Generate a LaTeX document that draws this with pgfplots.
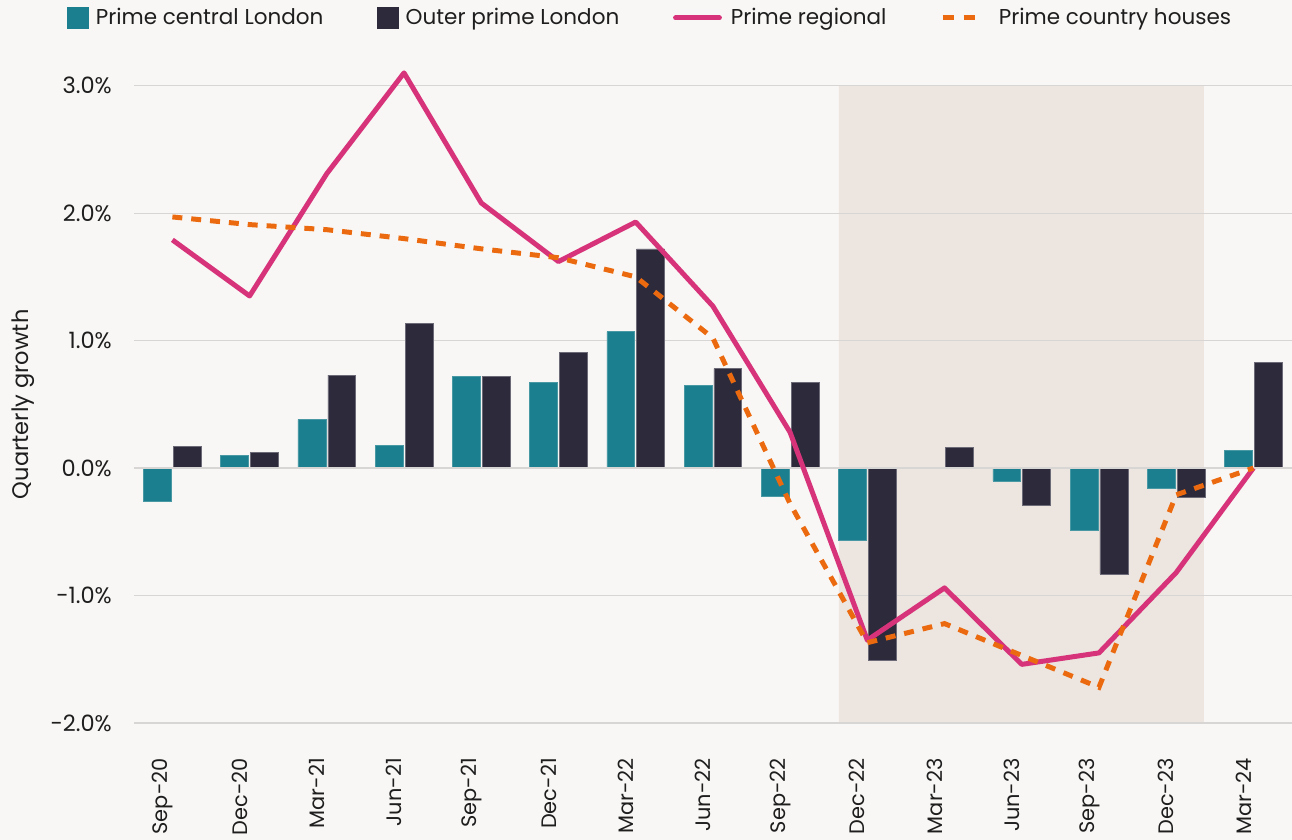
\documentclass[border=0pt]{standalone}
\usepackage{pgfplots}
\pgfplotsset{compat=1.18}
\usepackage{fontspec}
\setmainfont{Poppins}
\definecolor{bg}{HTML}{F9F7F5}
\definecolor{shade}{HTML}{EDE5DF}
\definecolor{pcl}{HTML}{1C7F8F}
\definecolor{opl}{HTML}{2D2A3B}
\definecolor{preg}{HTML}{D6337A}
\definecolor{pch}{HTML}{EC6A0F}
\definecolor{gridc}{HTML}{D8D6D4}
\definecolor{txt}{HTML}{1E1E1E}
\begin{document}
\pagecolor{bg}
\begin{tikzpicture}
\begin{axis}[
  at={(64.5pt,58.5pt)}, anchor=south west,
  scale only axis, width=581.5pt, height=320pt,
  xmin=-0.5, xmax=14.5, ymin=-2, ymax=3,
  clip=false, set layers,
  axis line style={draw=none}, major tick length=0pt,
  xtick={0,...,14},
  xticklabels={Sep-20,Dec-20,Mar-21,Jun-21,Sep-21,Dec-21,Mar-22,Jun-22,Sep-22,Dec-22,Mar-23,Jun-23,Sep-23,Dec-23,Mar-24},
  xticklabel style={xshift=-5pt, rotate=90, anchor=east, inner sep=1pt, font=\fontsize{10.5}{12}\selectfont, text=txt},
  xticklabel shift=16.5pt,
  ytick={-2,-1,0,1,2,3},
  yticklabels={-2.0\%,-1.0\%,0.0\%,1.0\%,2.0\%,3.0\%},
  yticklabel style={font=\fontsize{11.3}{13}\selectfont, text=txt},
  yticklabel shift=7.5pt,
  ymajorgrids, grid style={gridc, line width=0.6pt},
  ylabel={Quarterly growth},
  ylabel style={at={(axis description cs:-0.0954,0.5)}, anchor=center, font=\fontsize{11.3}{13}\selectfont, text=txt},
  legend columns=4,
  legend style={at={(axis description cs:0,1)}, anchor=west, xshift=-36.5pt, yshift=34pt,
    draw=none, fill=none, font=\fontsize{10.8}{12}\selectfont, text=txt,
    /tikz/every even column/.append style={column sep=25pt}},
]
\addplot[draw=none, fill=shade, on layer=axis background, forget plot]
  coordinates {(8.63,-2) (8.63,3) (13.36,3) (13.36,-2) (8.63,-2)};

\addplot[ybar, bar width=14pt, bar shift=-7.5pt, fill=pcl, draw=pcl!80!white, line width=0.3pt,
  legend image code/.code={\fill[pcl] (0pt,-5.25pt) rectangle (10.5pt,5.25pt); \path (12pt,0pt);}]
  coordinates {(0,-0.26) (1,0.10) (2,0.38) (3,0.18) (4,0.72) (5,0.67) (6,1.07) (7,0.65) (8,-0.22) (9,-0.57) (10,0.0) (11,-0.10) (12,-0.49) (13,-0.16) (14,0.14)};
\addlegendentry{Prime central London}

\addplot[ybar, bar width=14pt, bar shift=7.5pt, fill=opl, draw=opl!70!white, line width=0.3pt,
  legend image code/.code={\fill[opl] (0pt,-5.25pt) rectangle (10.5pt,5.25pt); \path (12pt,0pt);}]
  coordinates {(0,0.17) (1,0.125) (2,0.73) (3,1.135) (4,0.72) (5,0.91) (6,1.72) (7,0.78) (8,0.67) (9,-1.51) (10,0.16) (11,-0.29) (12,-0.83) (13,-0.23) (14,0.83)};
\addlegendentry{Outer prime London}

\addplot[gridc, line width=1.1pt, forget plot] coordinates {(-0.5,0) (14.5,0)};

\addplot[preg, line width=2.5pt, mark=none, line join=round,
  legend image code/.code={\draw[preg, line width=2.5pt, line cap=round] (0pt,0pt) -- (22pt,0pt); \path (24.5pt,0pt);}]
  coordinates {(0,1.79) (1,1.35) (2,2.31) (3,3.10) (4,2.08) (5,1.62) (6,1.93) (7,1.27) (8,0.28) (9,-1.35) (10,-0.94) (11,-1.54) (12,-1.45) (13,-0.82) (14,0.0)};
\addlegendentry{Prime regional}

\addplot[pch, line width=2.5pt, mark=none, dash pattern=on 5pt off 4.5pt,
  legend image code/.code={\draw[pch, line width=2.5pt, dash pattern=on 5.5pt off 5pt] (0pt,0pt) -- (16pt,0pt); \path (25pt,0pt);}]
  coordinates {(0,1.97) (1,1.91) (2,1.87) (3,1.80) (4,1.72) (5,1.65) (6,1.50) (7,1.02) (8,-0.28) (9,-1.37) (10,-1.22) (11,-1.47) (12,-1.72) (13,-0.21) (14,0.0)};
\addlegendentry{Prime country houses}
\end{axis}
\pgfresetboundingbox
\path[use as bounding box] (0,0) rectangle (646pt,421.5pt);
\end{tikzpicture}
\end{document}
